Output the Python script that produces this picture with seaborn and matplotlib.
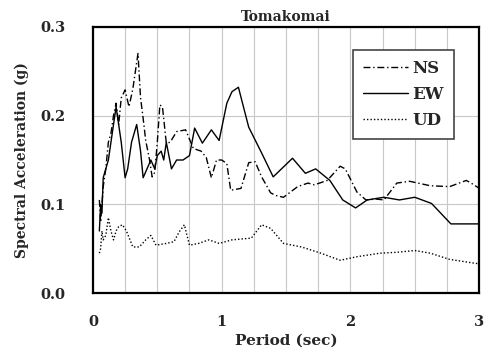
import numpy as np
import pandas as pd
import matplotlib
matplotlib.use("Agg")
import matplotlib.pyplot as plt
import seaborn as sns
from matplotlib.ticker import MultipleLocator

# ---- data ----
ns_period = [0.05,0.06,0.08,0.10,0.12,0.14,0.16,0.18,0.20,0.22,0.25,0.28,0.31,0.33,0.35,0.37,0.39,0.41,0.44,0.46,
             0.48,0.50,0.52,0.54,0.57,0.60,0.65,0.72,0.78,0.84,0.88,0.92,0.96,1.00,1.04,1.07,1.15,1.21,1.26,1.31,
             1.38,1.42,1.48,1.59,1.67,1.72,1.82,1.92,1.96,2.05,2.12,2.20,2.26,2.36,2.46,2.62,2.77,2.90,2.96,3.0]
ns_sa = [0.105,0.08,0.12,0.14,0.17,0.18,0.20,0.214,0.19,0.22,0.229,0.21,0.23,0.25,0.27,0.22,0.197,0.172,0.15,0.131,
         0.136,0.17,0.212,0.21,0.169,0.17,0.182,0.184,0.163,0.16,0.153,0.13,0.15,0.15,0.146,0.116,0.118,0.147,0.148,0.131,
         0.113,0.110,0.108,0.12,0.124,0.122,0.127,0.143,0.14,0.114,0.105,0.106,0.105,0.124,0.126,0.121,0.12,0.127,0.122,0.118]

ew_period = [0.05,0.06,0.07,0.08,0.10,0.12,0.14,0.16,0.18,0.20,0.22,0.25,0.27,0.30,0.34,0.37,0.39,0.42,0.45,0.48,
             0.50,0.53,0.55,0.57,0.61,0.65,0.70,0.75,0.79,0.85,0.92,0.98,1.04,1.08,1.13,1.16,1.21,1.31,1.40,1.55,
             1.65,1.73,1.84,1.94,2.04,2.13,2.26,2.38,2.50,2.63,2.78,3.0]
ew_sa = [0.07,0.10,0.09,0.13,0.14,0.15,0.17,0.19,0.21,0.19,0.17,0.13,0.14,0.17,0.19,0.16,0.13,0.14,0.15,0.14,
         0.155,0.16,0.15,0.17,0.14,0.15,0.15,0.155,0.186,0.169,0.184,0.172,0.214,0.227,0.232,0.215,0.187,0.158,0.131,0.152,
         0.135,0.140,0.127,0.105,0.096,0.105,0.108,0.105,0.108,0.101,0.078,0.078]

ud_period = [0.05,0.06,0.07,0.08,0.10,0.12,0.14,0.16,0.18,0.20,0.23,0.26,0.31,0.36,0.41,0.45,0.49,0.57,0.63,0.67,
             0.71,0.75,0.82,0.90,0.98,1.08,1.23,1.31,1.38,1.48,1.62,1.77,1.92,2.05,2.23,2.36,2.50,2.62,2.77,2.95,3.0]
ud_sa = [0.045,0.05,0.07,0.06,0.065,0.085,0.07,0.06,0.07,0.075,0.077,0.07,0.052,0.052,0.06,0.065,0.054,0.056,0.058,0.069,
         0.077,0.054,0.056,0.06,0.056,0.06,0.062,0.077,0.073,0.056,0.052,0.045,0.037,0.041,0.045,0.046,0.048,0.045,0.038,0.034,0.033]

components = ["NS", "EW", "UD"]
title = "Tomakomai"
x_label = "Period (sec)"
y_label = "Spectral Acceleration (g)"

df = pd.concat([
    pd.DataFrame({"Period": ns_period, "SA": ns_sa, "Comp": "NS"}),
    pd.DataFrame({"Period": ew_period, "SA": ew_sa, "Comp": "EW"}),
    pd.DataFrame({"Period": ud_period, "SA": ud_sa, "Comp": "UD"}),
], ignore_index=True)

sns.set_style("white")
plt.rcParams["font.family"] = ["DejaVu Serif"]
plt.rcParams["font.weight"] = "bold"

fig = plt.figure(figsize=(4.89, 3.54), dpi=100)
ax = fig.add_axes([0.190, 0.172, 0.790, 0.752])

sns.lineplot(data=df, x="Period", y="SA", hue="Comp", style="Comp",
             hue_order=components, style_order=components,
             palette={"NS": "black", "EW": "black", "UD": "black"},
             dashes={"NS": (5, 2, 1, 2), "EW": "", "UD": (1, 1.5)},
             linewidth=1.0, sort=False, estimator=None, ax=ax)

ax.set_xlim(0, 3)
ax.set_ylim(0, 0.3)
ax.xaxis.set_minor_locator(MultipleLocator(0.25))
ax.set_xticks([0, 1, 2, 3])
ax.set_xticklabels(["0", "1", "2", "3"])
ax.set_yticks([0.0, 0.1, 0.2, 0.3])
ax.set_yticklabels(["0.0", "0.1", "0.2", "0.3"])
ax.grid(True, which="both", axis="x", color="#c8c8c8", linewidth=0.8)
ax.grid(True, which="major", axis="y", color="#c8c8c8", linewidth=0.8)
ax.tick_params(axis="both", which="both", direction="in", labelsize=10.5)
ax.tick_params(axis="x", which="major", length=4, width=1, pad=16)
ax.tick_params(axis="x", which="minor", length=3, width=0.8)
ax.tick_params(axis="y", length=0, pad=20)
for s in ax.spines.values():
    s.set_color("black")
    s.set_linewidth(1.6)

ax.set_xlabel(x_label, fontsize=11, fontweight="bold", labelpad=3)
ax.set_ylabel(y_label, fontsize=10, fontweight="bold", labelpad=8)
ax.set_title(title, fontsize=10, fontweight="bold", pad=4)

leg = ax.legend(loc="upper right", bbox_to_anchor=(0.935, 0.914), borderaxespad=0,
                frameon=True, fancybox=False,
                edgecolor="#444444", framealpha=1, handlelength=2.7, handletextpad=0.3,
                labelspacing=0.55, borderpad=0.6, prop={"family": "DejaVu Serif", "weight": "bold", "size": 12})
leg.get_frame().set_linewidth(1.2)
for t in leg.get_texts():
    t.set_fontweight("bold")

fig.savefig("out.png", dpi=100)
